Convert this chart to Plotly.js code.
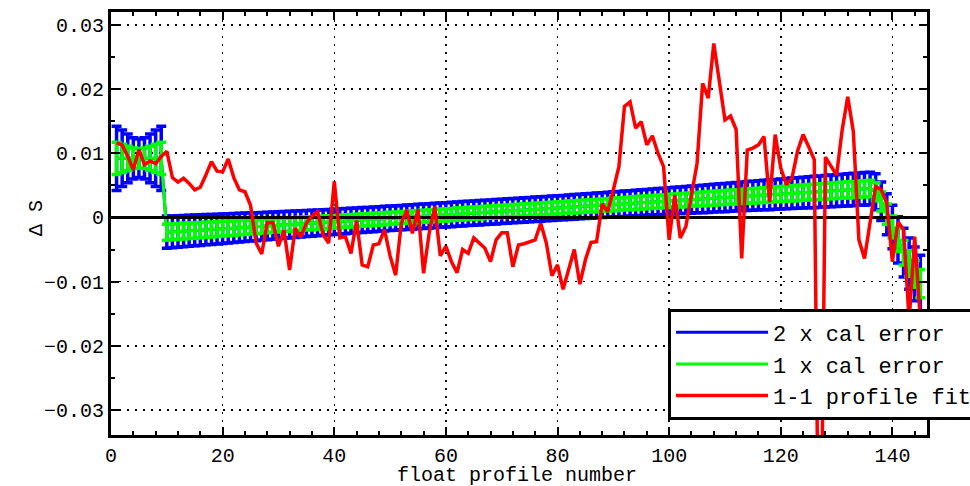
<!DOCTYPE html>
<html>
<head>
<meta charset="utf-8">
<script src="https://cdn.plot.ly/plotly-3.0.1.min.js"></script>
<style>html,body{margin:0;padding:0;background:#fff;}</style>
</head>
<body>
<div id="chart" style="width:970px;height:486px;"></div>
<script>
// float profile numbers
const profiles = [
  1,2,3,4,5,6,7,8,9,10,11,12,13,14,15,16,17,18,19,20,
  21,22,23,24,25,26,27,28,29,30,31,32,33,34,35,36,37,38,39,40,
  41,42,43,44,45,46,47,48,49,50,51,52,53,54,55,56,57,58,59,60,
  61,62,63,64,65,66,67,68,69,70,71,72,73,74,75,76,77,78,79,80,
  81,82,83,84,85,86,87,88,89,90,91,92,93,94,95,96,97,98,99,100,
  101,102,103,104,105,106,107,108,109,110,111,112,113,114,115,116,117,118,119,120,
  121,122,123,124,125,126,127,128,129,130,131,132,133,134,135,136,137,138,139,140,
  141,142,143,144,145
];

// calibration offset (piecewise fit)
const calOffset = [
  0.0092,0.0092,0.0092,0.0092,0.0092,0.0092,0.0092,0.0092,0.0092,
  -0.00230,-0.00225,-0.00219,-0.00214,-0.00208,-0.00203,-0.00198,-0.00192,-0.00187,-0.00181,
  -0.00176,-0.00171,-0.00165,-0.00160,-0.00154,-0.00149,-0.00144,-0.00138,-0.00133,-0.00127,
  -0.00122,-0.00117,-0.00111,-0.00106,-0.00100,-0.00095,-0.00090,-0.00084,-0.00079,-0.00073,
  -0.00068,-0.00063,-0.00057,-0.00052,-0.00046,-0.00041,-0.00036,-0.00030,-0.00025,-0.00019,
  -0.00014,-0.00009,-0.00003,0.00002,0.00008,0.00013,0.00018,0.00024,0.00029,0.00035,
  0.00040,0.00045,0.00051,0.00056,0.00062,0.00067,0.00072,0.00078,0.00083,0.00089,
  0.00094,0.00099,0.00105,0.00110,0.00116,0.00121,0.00126,0.00132,0.00137,0.00143,
  0.00148,0.00153,0.00159,0.00164,0.00170,0.00175,0.00180,0.00186,0.00191,0.00197,
  0.00202,0.00207,0.00213,0.00218,0.00224,0.00229,0.00234,0.00240,0.00245,0.00251,
  0.00256,0.00261,0.00267,0.00272,0.00278,0.00283,0.00288,0.00294,0.00299,0.00305,
  0.00310,0.00315,0.00321,0.00326,0.00332,0.00337,0.00342,0.00348,0.00353,0.00359,
  0.00364,0.00369,0.00375,0.00380,0.00386,0.00391,0.00396,0.00402,0.00407,0.00413,
  0.00418,0.00423,0.00429,0.00434,0.00440,0.00445,0.00450,
  0.0040,0.0025,0.0005,-0.0015,-0.0035,-0.0055,-0.0072,-0.0088,-0.0103
];

// 1 x calibration error
const calError = [
  0.0025,0.0022,0.0019,0.0016,0.0015,0.0016,0.0019,0.0022,0.0025,
  0.00125,0.00124,0.00123,0.00122,0.00121,0.00120,0.00119,0.00118,0.00117,0.00116,
  0.00115,0.00114,0.00113,0.00112,0.00111,0.00110,0.00109,0.00108,0.00107,0.00106,
  0.00105,0.00104,0.00104,0.00103,0.00102,0.00102,0.00101,0.00100,0.00100,0.00099,
  0.00099,0.00098,0.00098,0.00097,0.00097,0.00097,0.00096,0.00096,0.00096,0.00096,
  0.00095,0.00095,0.00095,0.00095,0.00095,0.00095,0.00095,0.00095,0.00095,0.00095,
  0.00095,0.00095,0.00095,0.00095,0.00095,0.00095,0.00095,0.00095,0.00095,0.00095,
  0.00095,0.00095,0.00095,0.00095,0.00095,0.00095,0.00095,0.00095,0.00095,0.00095,
  0.00095,0.00095,0.00095,0.00096,0.00096,0.00096,0.00096,0.00097,0.00097,0.00097,
  0.00098,0.00098,0.00099,0.00099,0.00100,0.00100,0.00101,0.00101,0.00102,0.00102,
  0.00103,0.00104,0.00104,0.00105,0.00106,0.00106,0.00107,0.00108,0.00108,0.00109,
  0.00110,0.00110,0.00111,0.00112,0.00113,0.00113,0.00114,0.00115,0.00116,0.00116,
  0.00117,0.00118,0.00119,0.00119,0.00120,0.00121,0.00122,0.00122,0.00123,0.00124,
  0.00124,0.00125,0.00125,0.00126,0.00126,0.00127,0.00127,
  0.0014,0.0015,0.0016,0.0017,0.0018,0.0019,0.0020,0.0021,0.0022
];

// 1-1 profile fit
const profileFit = [
  0.0116,0.0113,0.0095,0.0074,0.0106,0.0082,0.0088,0.0084,0.0095,0.0103,
  0.0062,0.0055,0.0061,0.0053,0.0043,0.0047,0.0066,0.0087,0.0072,0.0071,
  0.0091,0.0062,0.0043,0.0040,0.0019,-0.0040,-0.0057,-0.0008,-0.0008,-0.0045,
  -0.0020,-0.0082,-0.0017,-0.0031,-0.0009,0.0002,0.0009,-0.0027,-0.0040,0.0056,
  -0.0032,-0.0030,-0.0056,-0.0005,-0.0074,-0.0077,-0.0043,-0.0041,-0.0019,-0.0060,
  -0.0090,-0.0010,0.0012,-0.0025,0.0013,-0.0087,-0.0025,0.0017,-0.0060,-0.0045,
  -0.0069,-0.0086,-0.0050,-0.0056,-0.0032,-0.0040,-0.0048,-0.0069,-0.0035,-0.0024,
  -0.0024,-0.0077,-0.0043,-0.0041,-0.0038,-0.0035,-0.0009,-0.0040,-0.0091,-0.0074,
  -0.0112,-0.0080,-0.0050,-0.0104,-0.0066,-0.0039,-0.0038,0.0021,0.0009,0.0043,
  0.0079,0.0173,0.0180,0.0139,0.0149,0.0113,0.0127,0.0100,0.0079,-0.0035,
  0.0035,-0.0032,-0.0014,0.0035,0.0084,0.0209,0.0186,0.0271,0.0209,0.0152,
  0.0158,0.0137,-0.0064,0.0105,0.0108,0.0113,0.0126,0.0024,0.0129,0.0077,
  0.0051,0.0061,0.0103,0.0129,0.0110,0.0090,-0.0700,0.0094,0.0080,0.0066,
  0.0136,0.0188,0.0134,-0.0035,-0.0064,-0.0004,0.0048,0.0043,0.0022,-0.0069,
  -0.0007,-0.0019,-0.0160,-0.0030,-0.0160
];

const legendNames = ['2 x cal error', '1 x cal error', '1-1 profile fit'];
const xTitle = 'float profile number';
const yTitle = 'Δ S';
const xRange = [0, 146.2];
const yRange = [-0.0339, 0.0320];
const zeroLevel = [0, 0];

const FONT = '"Courier New", Courier, "Nimbus Mono PS", "Nimbus Mono L", FreeMono, "Liberation Mono", monospace';

const traces = [
  {
    x: profiles, y: calOffset, type: 'scatter', mode: 'lines',
    name: legendNames[0], legendgroup: 'a',
    line: {color: '#0000ff', width: 3},
    error_y: {type: 'data', array: calError.map(e => 2 * e), visible: true,
              color: '#0000ff', thickness: 3.5, width: 5}
  },
  {
    x: profiles, y: calOffset, type: 'scatter', mode: 'lines',
    name: legendNames[1], legendgroup: 'b',
    line: {color: '#00ff00', width: 3},
    error_y: {type: 'data', array: calError, visible: true,
              color: '#00ff00', thickness: 3.5, width: 5}
  },
  {
    x: xRange, y: zeroLevel, type: 'scatter', mode: 'lines',
    showlegend: false, hoverinfo: 'skip',
    line: {color: '#000000', width: 3}
  },
  {
    x: profiles, y: profileFit, type: 'scatter', mode: 'lines',
    name: legendNames[2], legendgroup: 'c',
    line: {color: '#ff0000', width: 3.5}
  }
];

const axisCommon = {
  showline: true, linewidth: 3, linecolor: '#000',
  mirror: 'ticks', ticks: 'inside', tickwidth: 2, tickcolor: '#000',
  showgrid: true, gridcolor: '#000', gridwidth: 1.5, griddash: '2px,6px',
  zeroline: false,
  tickfont: {family: FONT, size: 20, color: '#000'}
};

const layout = {
  width: 970, height: 486,
  margin: {l: 111, r: 43, t: 12, b: 51, autoexpand: false},
  paper_bgcolor: '#fff', plot_bgcolor: '#fff',
  font: {family: FONT, color: '#000'},
  showlegend: true,
  xaxis: Object.assign({}, axisCommon, {
    range: xRange, tick0: 0, dtick: 20, ticklen: 8,
    minor: {dtick: 4, ticklen: 4, ticks: 'inside', tickwidth: 2, tickcolor: '#000', showgrid: false}
  }),
  yaxis: Object.assign({}, axisCommon, {
    range: yRange, tick0: 0, dtick: 0.01, ticklen: 8,
    minor: {dtick: 0.005, ticklen: 4, ticks: 'inside', tickwidth: 2, tickcolor: '#000', showgrid: false}
  }),
  annotations: [
    {
      text: yTitle, textangle: -90, showarrow: false,
      xref: 'paper', yref: 'paper', x: -0.092, y: 0.513,
      xanchor: 'center', yanchor: 'middle',
      font: {family: FONT, size: 20, color: '#000'}
    },
    {
      text: xTitle, showarrow: false,
      xref: 'paper', yref: 'paper', x: 0.498, y: -0.0946,
      xanchor: 'center', yanchor: 'middle',
      font: {family: FONT, size: 20, color: '#000'}
    }
  ],
  legend: {
    x: 0.6826, y: 0.2990, xanchor: 'left', yanchor: 'top',
    bgcolor: '#fff', bordercolor: '#000', borderwidth: 3,
    font: {family: FONT, size: 22, color: '#000'},
    tracegroupgap: 0, itemwidth: 92
  }
};

Plotly.newPlot('chart', traces, layout, {staticPlot: true, displayModeBar: false});
</script>
</body>
</html>
